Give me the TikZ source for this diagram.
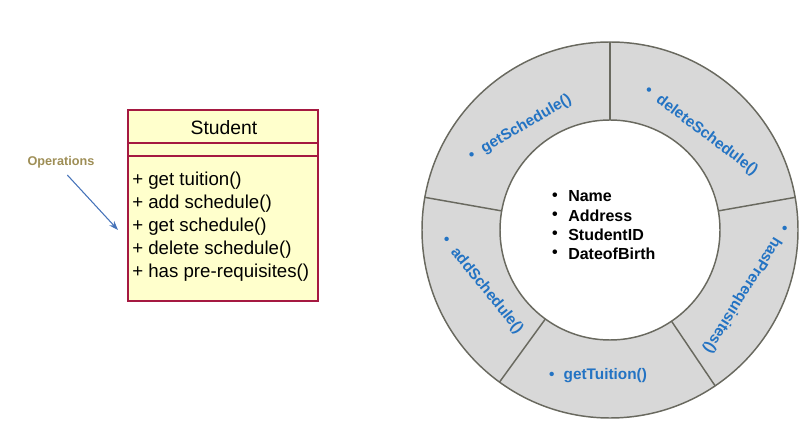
\documentclass[tikz,border=0pt]{standalone}
\usepackage{fontspec}
\setmainfont{Liberation Sans}
\usetikzlibrary{arrows.meta}
\definecolor{umlFill}{RGB}{255,255,204}
\definecolor{umlEdge}{RGB}{165,25,65}
\definecolor{opsGold}{RGB}{158,142,86}
\definecolor{opsBlue}{RGB}{70,115,185}
\definecolor{ringGray}{RGB}{216,216,216}
\definecolor{ringEdge}{RGB}{105,105,95}
\definecolor{ringBlue}{RGB}{35,115,195}

\begin{document}
\begin{tikzpicture}[x=0.75pt, y=0.75pt, every node/.style={inner sep=0pt},
    oplabel/.style={anchor=west, font=\fontsize{14}{16}\selectfont},
    attrtext/.style={anchor=west, font=\bfseries\fontsize{12}{14}\selectfont},
    ringlabel/.style={text=ringBlue, font=\bfseries\fontsize{11.5}{13}\selectfont},
    ringline/.style={draw=ringEdge, line width=1.1pt}]
  \useasboundingbox (0,0) rectangle (810,439);

  % class box
  \draw[umlEdge, fill=umlFill, line width=0.9pt] (128,138) rectangle (318,329);
  \draw[umlEdge, line width=0.9pt] (128,296) -- (318,296);
  \draw[umlEdge, line width=0.9pt] (128,283) -- (318,283);
  \node[font=\fontsize{14.5}{17}\selectfont] (clsname) at (224,311) {Student};
  \foreach \txt [count=\i] in {get tuition(), add schedule(), get schedule(), delete schedule(), has pre-requisites()}
    \node[oplabel] (op\i) at (132,281-23*\i) {+ \txt};

  \node[text=opsGold, font=\bfseries\fontsize{9.5}{11}\selectfont] (opslabel) at (61,277) {Operations};
  \coordinate (opsTip) at (118,209);
  \draw[opsBlue, line width=0.8pt, -{Stealth[length=7pt, width=5pt]}, shorten <=7pt] (opslabel.south) -- (opsTip);

  % ring
  \coordinate (ctr) at (610,209);
  \draw[ringline, fill=ringGray] (ctr) circle (188);
  \draw[ringline, fill=white] (ctr) circle (110);
  \foreach \a in {90,10,-56,-126,170}
    \draw[ringline] (ctr) ++(\a:110) -- +(\a:78);

  \node[ringlabel, rotate=30] (getSched) at (520,311) {•\hspace{0.6em}getSchedule()};
  \node[ringlabel, rotate=-37] (delSched) at (701,308) {•\hspace{0.6em}deleteSchedule()};
  \node[ringlabel, rotate=-122] (hasPre) at (746,150) {•\hspace{0.6em}hasPrerequisites()};
  \node[ringlabel] (getTuit) at (598,63) {•\hspace{0.6em}getTuition()};
  \node[ringlabel, rotate=-51] (addSched) at (482,154) {•\hspace{0.6em}addSchedule()};

  \foreach \txt [count=\i] in {Name, Address, StudentID, DateofBirth} {
    \node[font=\bfseries\fontsize{12}{14}\selectfont] (dot\i) at (555,262-19.3*\i) {•};
    \node[attrtext] (attr\i) at (568,262-19.3*\i) {\txt};
  }
\end{tikzpicture}
\end{document}
